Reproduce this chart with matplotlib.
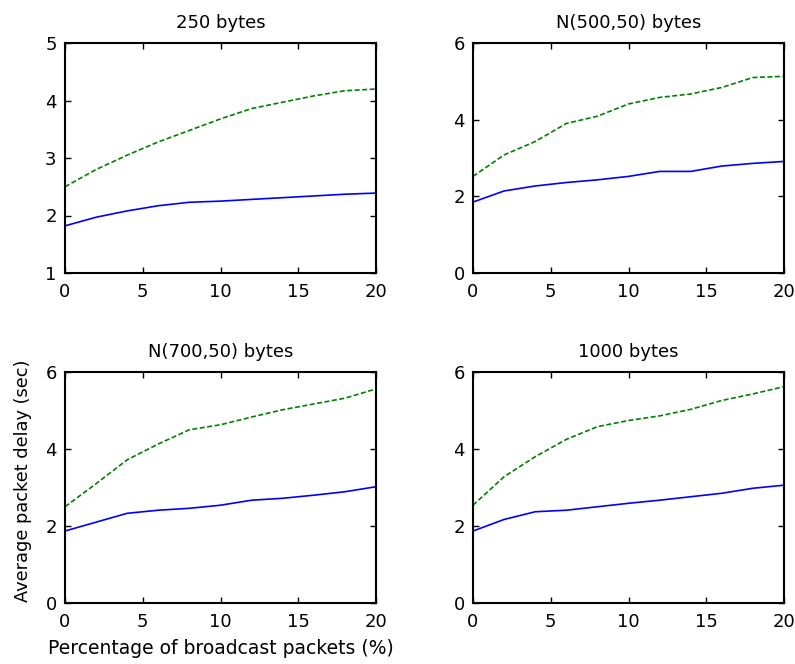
import matplotlib
matplotlib.use("Agg")
import matplotlib.pyplot as plt

plt.rcParams['font.family'] = ['DejaVu Sans']

# Data
x_pct = [0, 2, 4, 6, 8, 10, 12, 14, 16, 18, 20]

titles = ['250 bytes', 'N(500,50) bytes', 'N(700,50) bytes', '1000 bytes']

blue_250 = [1.82, 1.97, 2.08, 2.17, 2.23, 2.25, 2.28, 2.31, 2.34, 2.37, 2.39]
green_250 = [2.50, 2.80, 3.05, 3.28, 3.48, 3.68, 3.86, 3.97, 4.08, 4.17, 4.20]

blue_500 = [1.85, 2.14, 2.27, 2.36, 2.43, 2.52, 2.65, 2.65, 2.79, 2.86, 2.91]
green_500 = [2.52, 3.08, 3.43, 3.90, 4.09, 4.41, 4.58, 4.67, 4.84, 5.10, 5.13]

blue_700 = [1.87, 2.10, 2.33, 2.41, 2.46, 2.54, 2.67, 2.72, 2.80, 2.89, 3.02]
green_700 = [2.50, 3.10, 3.72, 4.13, 4.50, 4.63, 4.83, 5.02, 5.17, 5.32, 5.56]

blue_1000 = [1.87, 2.17, 2.37, 2.41, 2.50, 2.59, 2.67, 2.76, 2.85, 2.98, 3.06]
green_1000 = [2.54, 3.28, 3.80, 4.25, 4.58, 4.74, 4.86, 5.03, 5.26, 5.43, 5.62]

blue_series = [blue_250, blue_500, blue_700, blue_1000]
green_series = [green_250, green_500, green_700, green_1000]
y_limits = [(1, 5), (0, 6), (0, 6), (0, 6)]
y_ticks = [[1, 2, 3, 4, 5], [0, 2, 4, 6], [0, 2, 4, 6], [0, 2, 4, 6]]

fig = plt.figure(figsize=(7.95, 6.64), dpi=100)
W, H = 795.0, 664.0
# axes boxes in pixels: left, top, right, bottom
boxes = [(65, 43, 376, 273), (473, 43, 784, 273),
         (65, 372, 376, 603), (473, 372, 784, 603)]

for i, (l, t, r, b) in enumerate(boxes):
    ax = fig.add_axes([l / W, 1 - b / H, (r - l) / W, (b - t) / H])
    ax.plot(x_pct, blue_series[i], color=(0, 0, 1), lw=1.2)
    ax.plot(x_pct, green_series[i], color=(0, 0.5, 0), lw=1.2,
            linestyle=(0, (3, 1.5)))
    ax.set_xlim(0, 20)
    ax.set_ylim(*y_limits[i])
    ax.set_xticks([0, 5, 10, 15, 20])
    ax.set_yticks(y_ticks[i])
    ax.tick_params(direction='in', top=True, right=True, labelsize=13,
                   length=4, width=1)
    ax.tick_params(axis='x', pad=7)
    ax.tick_params(axis='y', pad=6)
    for s in ax.spines.values():
        s.set_linewidth(1.5)
    ax.set_title(titles[i], fontsize=13, pad=11)
    if i == 2:
        ax.set_ylabel('Average packet delay (sec)', fontsize=12.8)
        ax.yaxis.set_label_coords(-0.105, 0.53)
        ax.set_xlabel('Percentage of broadcast packets (%)', fontsize=13.5,
                      labelpad=6)

fig.savefig('out.png', dpi=100)
